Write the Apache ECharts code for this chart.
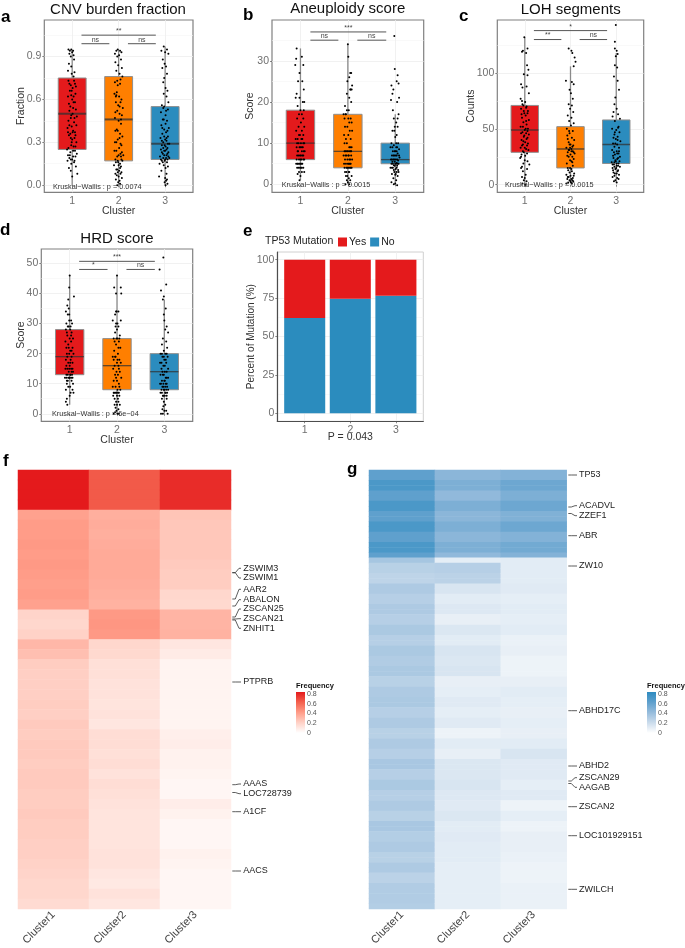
<!DOCTYPE html>
<html><head><meta charset="utf-8">
<style>html,body{margin:0;padding:0;background:#fff}#c{width:685px;height:948px}</style>
<script src="https://cdn.jsdelivr.net/npm/echarts@6/dist/echarts.min.js"></script></head>
<body><div id="c"></div>
<script>
// ---------- data ----------
const clusters=[1,2,3];
// box stats: low, q1, median, q3, high
const boxA=[[0,.25,.5,.75,.95],[0,.17,.46,.76,.95],[0,.18,.29,.55,.97]];
const boxB=[[1,6,10,18,33],[0,4,8,17,34],[0,5,6,10,17]];
const boxC=[[0,29,49,71,132],[2,15,32,52,106],[2,19,36,58,118]];
const boxD=[[3,13,19,28,46],[0,8,16,25,46],[0,8,14,20,38]];
// points: [jitter in hundredths, value]
const ptsA1=[[-8,95],[-5,94],[-2,95],[2,94],[0,93],[-6,92],[3,91],[-3,90],[4,88],[-7,85],[-2,83],[-9,80],[5,79],[-1,78],[3,76],[-6,71],[-3,70],[8,69],[1,68],[-5,66],[7,64],[-2,63],[3,62],[-9,62],[0,60],[6,58],[-4,55],[2,54],[8,53],[-6,52],[1,50],[10,48],[-3,47],[-8,45],[4,44],[9,42],[-1,41],[-10,40],[2,38],[6,37],[-4,36],[-7,35],[5,33],[0,32],[9,30],[-2,28],[3,27],[-8,26],[-11,25],[6,24],[-4,23],[10,22],[-9,21],[2,20],[-6,19],[0,18],[-10,17],[4,16],[-2,15],[8,13],[-7,12],[-3,10],[11,8],[0,6],[4,73],[-8,73],[6,71],[-1,66],[3,58],[-7,57],[-2,49],[5,47],[-6,42],[1,37],[-9,37],[7,35],[-3,33],[-1,30],[7,27],[2,24],[-5,21],[7,20],[-3,18],[5,17]];
const ptsA2=[[-5,94],[-2,95],[3,94],[6,93],[-8,92],[1,91],[-3,90],[5,88],[-7,86],[-1,84],[7,82],[-5,80],[2,78],[8,76],[-8,72],[-2,70],[4,74],[-4,65],[-9,64],[1,62],[6,60],[-6,58],[-1,56],[9,54],[-3,52],[2,50],[7,49],[-8,47],[0,45],[5,43],[-4,39],[-7,38],[3,36],[8,34],[-2,32],[-5,30],[6,28],[1,26],[-9,24],[4,22],[10,21],[-3,20],[-7,18],[8,17],[-1,16],[3,15],[-10,14],[5,13],[-5,11],[1,10],[-2,9],[4,8],[-4,7],[0,6],[7,5],[-6,4],[2,3],[-1,2],[3,1],[-3,0],[0,14],[6,18],[-3,73],[3,71],[-5,63],[-6,62],[4,58],[2,55],[-7,51],[5,46],[-2,38],[2,33],[-8,30],[4,29],[-5,24],[7,23],[0,21],[5,20],[-2,17],[-6,16],[3,12],[-3,11],[6,9],[-7,8]];
const ptsA3=[[-3,97],[4,95],[-8,94],[0,93],[7,92],[-5,88],[-1,85],[2,83],[-6,82],[4,78],[-2,75],[-4,72],[1,68],[5,66],[-3,64],[3,62],[7,58],[-7,56],[-2,55],[6,53],[-9,51],[1,49],[-5,46],[4,45],[-8,42],[8,40],[-2,39],[2,37],[-6,36],[6,34],[-10,33],[0,32],[3,31],[-4,30],[9,29],[-7,28],[1,27],[5,26],[-9,25],[-2,24],[7,23],[-5,22],[3,21],[-11,20],[9,19],[0,18],[-7,17],[4,16],[-12,15],[-3,14],[6,13],[1,12],[-8,10],[3,8],[-13,6],[0,5],[4,4],[2,3],[-1,2],[5,1],[1,0],[-4,54],[2,52],[-3,46],[1,43],[-6,40],[5,38],[-2,34],[3,33],[-7,31],[6,29],[-1,28],[-4,26],[3,25],[0,24],[-7,23],[5,22],[-2,21],[7,20],[-4,19],[2,19],[-9,18],[5,18],[-1,17],[-5,16]];
const ptsB1=[[-8,33],[3,31],[-9,30.5],[-11,29],[6,29],[-2,27],[4,25],[-5,25],[7,23],[-8,22],[-2,21],[-10,21],[5,20],[8,20],[-6,19],[0,18],[7,18],[-3,17],[3,17],[-7,16],[6,16],[1,15],[-4,14],[8,14],[-9,13],[3,13],[-1,12],[6,12],[-6,11],[-10,11],[2,11],[8,10],[-4,10],[0,9],[5,9],[-8,9],[3,8],[-5,8],[9,8],[-1,7],[6,7],[-7,7],[2,6],[-3,6],[8,6],[-9,5],[0,5],[-5,5],[4,5],[-7,4],[1,4],[6,4],[-3,3],[3,3],[-6,2.5],[0,2],[-2,1],[-3,12],[4,11],[-7,10],[1,10],[6,10],[-2,9],[3,9],[-6,8],[7,8],[1,7],[-4,7],[4,7],[-8,6],[0,6],[6,6],[-2,5],[2,5],[-6,5],[-1,4],[-4,4],[3,4],[8,3]];
const ptsB2=[[0,34],[1,31],[7,27],[5,27],[3,26],[-1,25],[9,24],[5,23],[8,23],[-2,22],[3,21],[7,20],[-6,19],[-2,18],[2,18],[-9,17],[-4,17],[6,16],[-7,16],[3,15],[8,15],[-1,14],[-6,14],[4,13],[9,13],[-8,12],[1,12],[-4,11],[6,11],[-2,10],[-7,10],[3,9],[8,9],[0,8],[-5,8],[7,8],[-9,7],[2,7],[-3,7],[5,6],[-6,6],[9,6],[0,5],[-8,5],[4,5],[-3,4],[6,4],[1,4],[-6,3],[3,3],[-1,2],[8,2],[-4,2],[2,1.5],[5,1],[-2,1],[0,.5],[3,0],[-5,0],[6,23],[-5,17],[1,16],[5,9],[-2,8],[3,8],[-7,8],[6,8],[1,7],[-5,7],[7,7],[-1,6],[3,6],[-4,5],[6,5],[2,5],[-7,4],[-1,4],[4,4],[8,4],[2,3],[-3,3]];
const ptsB3=[[-2,36],[-1,28],[5,26.5],[-8,24],[3,25],[7,24.5],[-6,22],[-4,23],[8,21],[-9,20.5],[4,20],[-5,18],[7,17],[5,16],[-3,16],[2,15],[-1,14],[5,14],[-6,13],[3,12],[0,11.5],[-8,10],[6,10],[-3,9.5],[2,9],[-10,9],[8,8.5],[-5,8],[0,8],[5,7.5],[-7,7],[-2,7],[3,7],[9,6.5],[-9,6],[-4,6],[1,6],[6,5.8],[-6,5.5],[-1,5.5],[3,5.2],[-8,5],[0,5],[7,5],[-3,4.6],[4,4.5],[-10,4],[-5,4],[1,3.7],[6,3.5],[-2,3],[3,3],[-7,2.5],[0,2.3],[5,2],[-4,1.5],[2,1],[-8,.5],[0,.2],[-3,0],[4,-.2],[-2,13],[2,10],[-6,9],[4,9],[-1,8],[3,8],[8,7],[-4,7],[1,7],[-7,6],[-2,6],[4,6],[-5,5],[2,5],[5,5],[-1,4.5],[-7,4],[3,4],[-3,3.5],[7,3],[1,2.5]];
const ptsC1=[[-1,132],[-6,119],[3,118],[6,122],[-4,120],[5,107],[8,103],[-2,99],[6,98],[-8,90],[4,88],[-5,87],[9,82],[-9,77],[-6,75],[1,74],[-3,71],[4,70],[-8,68],[7,66],[-1,64],[2,62],[-6,60],[9,58],[-3,56],[4,54],[-9,52],[7,50],[0,49],[-5,47],[3,46],[9,45],[-2,43],[6,42],[-7,40],[1,38],[-4,36],[5,35],[-9,33],[3,32],[8,31],[-2,29],[-7,27],[1,26],[-10,24],[6,21],[-3,19],[10,18],[-8,15],[5,14],[-4,12],[2,9],[-6,7],[0,6],[-2,4],[4,3],[-5,1],[1,0],[-5,72],[3,69],[-2,66],[6,64],[-7,63],[3,57],[-4,52],[2,50],[6,48],[-8,46],[-1,44],[4,41],[-3,39],[7,37],[-6,35],[0,33],[-4,30],[5,28],[-8,25],[0,22],[-6,16]];
const ptsC2=[[-4,122],[2,120],[4,118],[9,114],[7,106],[11,110],[-10,93],[3,92],[7,90],[-2,85],[1,82],[5,77],[-4,72],[3,71],[-1,68],[6,65],[-6,62],[2,60],[-3,57],[7,55],[1,53],[-8,50],[5,48],[-2,46],[-7,44],[3,42],[8,40],[-4,38],[0,36],[6,35],[-9,33],[2,32],[-3,31],[5,30],[-6,29],[9,28],[0,27],[-4,25],[7,23],[2,21],[-8,19],[5,17],[-1,15],[-5,13],[3,12],[8,10],[-9,9],[0,8],[-4,7],[5,6],[-7,5],[2,5],[-2,4],[6,3],[-5,2],[1,2],[-9,1],[3,1],[-3,48],[-6,41],[-2,36],[4,34],[-1,33],[-4,31],[2,30],[7,29],[-7,26],[4,25],[-1,22],[4,20],[-6,15],[2,14],[-2,11],[7,8],[-6,7],[4,4],[0,3]];
const ptsC3=[[-1,143],[-3,128],[-3,122],[1,120],[3,117],[-1,115],[-3,107],[2,105],[-5,97],[3,93],[6,85],[-2,78],[-4,72],[1,68],[-6,65],[4,63],[-8,61],[8,59],[-3,57],[5,52],[-9,50],[0,49],[7,47],[-4,45],[3,43],[-1,41],[9,39],[-7,37],[2,36],[-4,34],[6,33],[-9,31],[1,30],[5,28],[-3,27],[8,25],[-6,24],[2,23],[-1,21],[-10,20],[5,19],[-5,18],[1,17],[8,16],[-8,15],[-2,14],[4,13],[-6,11],[1,10],[6,9],[-4,8],[-8,7],[2,6],[5,5],[-2,4],[-5,3],[1,2],[4,51],[-3,47],[-6,42],[3,40],[-2,37],[6,30],[-5,29],[2,28],[-7,26],[4,24],[-2,22],[7,21],[-4,20],[1,19],[-8,18],[4,17],[-4,16],[0,15],[-7,13],[3,12],[-3,10]];
const ptsD1=[[0,46],[-1,42],[9,39],[-3,38],[-5,36],[-2,35],[-8,34],[-4,33],[-1,31],[3,31],[-7,30],[5,30],[-2,29],[1,28],[-8,28],[4,27],[-5,26],[7,25],[0,25],[-9,24],[3,24],[-3,23],[6,22],[-7,22],[1,21],[-1,20],[8,20],[-5,19],[4,19],[-8,18],[2,18],[-3,17],[6,17],[0,16],[-9,15],[3,15],[-5,15],[7,14],[-2,14],[1,13],[-7,13],[5,13],[-10,12],[-1,12],[3,12],[-4,11],[7,10],[-6,10],[1,9],[-3,9],[6,8],[-8,8],[2,7],[8,7],[-6,5],[-8,4],[0,6],[-5,3],[-1,33],[2,29],[-4,29],[-6,27],[3,26],[-2,22],[4,21],[-6,20],[1,17],[-7,16],[6,15],[-1,15],[4,14],[-4,13],[2,13],[-7,12],[6,12],[0,12],[-3,12],[4,11],[-6,11]];
const ptsD2=[[0,46],[-6,42],[8,42],[-2,40],[9,40],[-1,34],[3,34],[-4,33],[8,31],[-9,31],[-2,30],[3,29],[0,28],[-4,27],[6,26],[-7,25],[1,25],[4,24],[-2,23],[7,22],[-6,21],[2,20],[-9,19],[-3,19],[5,18],[0,17],[8,17],[-5,16],[3,16],[-8,15],[-1,14],[6,14],[2,13],[-4,13],[9,12],[-7,11],[0,11],[4,10],[-9,9],[-3,9],[7,8],[1,8],[-6,7],[-1,7],[5,6],[-8,6],[2,5],[-2,4],[6,3],[-5,3],[0,3],[-3,2],[3,1.5],[-1,1],[-4,.5],[1,0],[4,0],[-7,0],[-2,34],[1,30],[-3,29],[5,25],[-1,25],[-5,24],[3,22],[-4,19],[1,18],[-7,18],[4,15],[-2,12],[5,9],[-3,7],[2,7],[-7,7],[4,7],[0,6],[-5,5],[3,4]];
const ptsD3=[[-2,52],[-10,48],[4,43],[-7,41],[-1,39],[-3,38],[3,35],[-1,33],[0,31],[5,29],[2,28],[8,27],[-3,25],[4,24],[-5,23],[6,22],[-1,21],[-8,20],[2,20],[-4,19],[7,19],[0,18],[-9,17],[4,17],[-2,16],[8,15],[-6,15],[1,14],[5,14],[-3,13],[-8,13],[3,12],[8,12],[-5,11],[0,11],[-9,10],[5,10],[2,9],[-2,9],[8,8],[-6,8],[0,8],[3,7],[-8,7],[6,7],[-3,6],[1,6],[-5,5],[5,5],[-1,4],[2,3],[-2,2.5],[-4,1.5],[0,1],[4,1],[-7,0],[-3,0],[7,0],[-5,20],[5,20],[-1,19],[3,18],[-6,17],[1,16],[-4,14],[-1,13],[5,12],[1,11],[-7,10],[-2,10],[3,10],[-4,9],[6,9],[-1,8],[4,8],[-5,7],[2,7],[5,6],[-2,6]];
const brA=[[1.2,2.8,1.05,'**'],[1.2,1.8,.99,'ns'],[2.2,2.8,.99,'ns']];
const brB=[[1.21,2.81,37,'***'],[1.21,1.8,35,'ns'],[2.2,2.81,35,'ns']];
const brC=[[1.2,2.8,138,'*'],[1.2,1.8,130,'**'],[2.2,2.8,130,'ns']];
const brD=[[1.2,2.8,50.7,'***'],[1.2,1.8,48,'*'],[2.2,2.8,48,'ns']];
const mutNo=[62,74.5,76.5];
const mutYes=[38,25.5,23.5];
const hmColumns=['Cluster1','Cluster2','Cluster3'];
const fC1=[.8,.8,.8,.8,.38,.4,.4,.41,.4,.41,.4,.39,.4,.38,.19,.18,.2,.3,.27,.22,.21,.21,.21,.22,.21,.23,.22,.23,.23,.22,.23,.23,.22,.22,.23,.22,.22,.21,.21,.2,.19,.18,.18,.16];
const fC2=[.62,.62,.62,.62,.33,.34,.33,.34,.35,.35,.35,.34,.33,.32,.41,.42,.41,.18,.17,.14,.14,.13,.13,.12,.13,.11,.15,.15,.14,.15,.13,.15,.14,.13,.12,.12,.12,.12,.13,.13,.11,.1,.13,.11];
const fC3=[.75,.75,.75,.75,.25,.24,.24,.24,.24,.23,.22,.22,.18,.17,.31,.31,.32,.11,.09,.05,.05,.05,.05,.05,.05,.05,.07,.08,.06,.06,.05,.04,.04,.08,.06,.04,.04,.04,.06,.05,.04,.04,.04,.04];
const gC1=[.6,.6,.68,.68,.6,.6,.68,.68,.6,.6,.68,.68,.6,.6,.68,.68,.6,.34,.27,.27,.25,.25,.31,.31,.28,.28,.31,.31,.28,.28,.32,.32,.28,.28,.32,.32,.3,.3,.32,.32,.27,.27,.31,.31,.32,.32,.28,.28,.31,.31,.27,.27,.31,.31,.28,.28,.33,.33,.28,.28,.32,.32,.28,.28,.31,.31,.27,.27,.33,.33,.29,.29,.31,.31,.27,.27,.31,.31,.26,.26,.3,.3,.3,.3,.29];
const gC2=[.44,.44,.49,.49,.42,.42,.49,.49,.44,.44,.49,.49,.44,.44,.49,.49,.42,.1,.28,.28,.26,.26,.15,.15,.11,.11,.13,.13,.09,.09,.14,.14,.11,.11,.15,.15,.14,.14,.15,.15,.09,.09,.1,.1,.12,.12,.1,.1,.12,.12,.07,.07,.11,.11,.09,.09,.14,.14,.14,.14,.15,.15,.13,.13,.12,.12,.14,.14,.11,.11,.12,.12,.11,.11,.11,.11,.1,.1,.1,.1,.1,.1,.1,.1,.1];
const gC3=[.47,.47,.55,.55,.49,.49,.55,.55,.48,.48,.55,.55,.47,.47,.53,.53,.47,.11,.11,.11,.11,.11,.12,.12,.1,.1,.11,.11,.1,.1,.11,.11,.08,.08,.09,.09,.07,.07,.07,.07,.09,.09,.11,.11,.1,.1,.09,.09,.1,.1,.09,.09,.11,.11,.15,.15,.12,.12,.12,.12,.1,.1,.12,.12,.07,.07,.1,.1,.07,.07,.09,.09,.09,.09,.08,.08,.07,.07,.07,.07,.08,.08,.08,.08,.08];
const fGenes=['ZSWIM3','ZSWIM1','AAR2','ABALON','ZSCAN25','ZSCAN21','ZNHIT1','PTPRB','AAAS','LOC728739','A1CF','AACS'];
const gGenes=['TP53','ACADVL','ZZEF1','ABR','ZW10','ABHD17C','ABHD2','ZSCAN29','AAGAB','ZSCAN2','LOC101929151','ZWILCH'];
const legendTicks=['0.8','0.6','0.4','0.2','0'];
const yTicksA=[0,.3,.6,.9], yTicksB=[0,10,20,30], yTicksC=[0,50,100], yTicksD=[0,10,20,30,40,50], yTicksE=[0,25,50,75,100];
const yMinorA=[.15,.45,.75,1.05], yMinorB=[5,15,25,35], yMinorC=[25,75,125], yMinorD=[5,15,25,35,45], yMinorE=[12.5,37.5,62.5,87.5];

// ---------- layout ----------
const FONT='"Liberation Sans",Arial,sans-serif';
const boxColors=['#e41a1c','#ff7f00','#2b8cbe'];
const panels=[
 {rect:[44.3,20,193,192.3],min:-.05,max:1.156,ticks:yTicksA,minor:yMinorA,name:'Fraction',box:boxA,pts:[ptsA1,ptsA2,ptsA3],scale:.01,br:brA,gap:18,medW:2,title:'CNV burden fraction',tx:118,ty:10,kw:'Kruskal\u2212Wallis : p = 0.0074',kx:53,ky:186.5},
 {rect:[272,20,423.7,192.3],min:-1.94,max:39.9,ticks:yTicksB,minor:yMinorB,name:'Score',box:boxB,pts:[ptsB1,ptsB2,ptsB3],scale:1,br:brB,gap:16,medW:1.3,title:'Aneuploidy score',tx:347.7,ty:9,kw:'Kruskal\u2212Wallis : p = 0.0015',kx:281.7,ky:185},
 {rect:[497.3,20,643.7,192.3],min:-6.8,max:147.5,ticks:yTicksC,minor:yMinorC,name:'Counts',box:boxC,pts:[ptsC1,ptsC2,ptsC3],scale:1,br:brC,gap:21,medW:1.5,title:'LOH segments',tx:570.7,ty:9.5,kw:'Kruskal\u2212Wallis : p = 0.0015',kx:505,ky:185},
 {rect:[41.3,249,192.7,421.3],min:-2.5,max:54.8,ticks:yTicksD,minor:yMinorD,name:'Score',box:boxD,pts:[ptsD1,ptsD2,ptsD3],scale:1,br:brD,gap:15,medW:1.3,title:'HRD score',tx:117,ty:238.5,kw:'Kruskal\u2212Wallis : p = 6e\u221204',kx:52,ky:414}
];
const eRect=[277.3,252,423.3,421.3], eBars=[281.9,252,418.7,421.3];
const hmF=[18,470,231,910.7], hmG=[369,470,566.7,909.3];
const fLab=[[568.3,572.7],[578,572.7],[589.3,599],[599.7,606],[609,617],[618.7,619],[628.3,620],[682,682],[784,784.7],[793.7,792.5],[811.7,811.7],[871,871]];
const gLab=[[475,475],[505.7,507],[515.7,513.5],[535.7,535.7],[566,566],[710.7,710.7],[766,766],[777.7,781],[787.3,783.5],[806.7,806.7],[835.7,835.7],[889.3,889.3]];

const grid=[],xAxis=[],yAxis=[],series=[],graphic=[];
function gridOf(r,extra){return Object.assign({left:r[0],top:r[1],width:r[2]-r[0],height:r[3]-r[1],containLabel:false},extra||{});}
function txt(text,x,y,size,fill,align,weight,rot){
  graphic.push({type:'text',x:x,y:y,rotation:rot||0,z:50,silent:true,style:{text:text,fill:fill,font:(weight?weight+' ':'')+size+'px '+FONT,textAlign:align||'left',textVerticalAlign:'middle'}});
}
const GRID='#ededed', MINOR='#f5f5f5', TICK='#6f6f6f', AXN='#333';
function xAxisOf(gi){
  return {gridIndex:gi,type:'value',min:.4,max:3.6,nameMoveOverlap:false,
   axisLine:{show:false},
   axisTick:{show:true,length:2,customValues:clusters,lineStyle:{color:'#555',width:.7}},
   axisLabel:{customValues:clusters,color:TICK,fontSize:10.5,fontFamily:FONT,margin:3,formatter:v=>String(v)},
   splitLine:{show:true,lineStyle:{color:GRID,width:.8}}};
}
panels.forEach((p,i)=>{
  const gi=grid.length;
  grid.push(gridOf(p.rect,{show:true,borderColor:'#808080',borderWidth:1.2,backgroundColor:'#fff'}));
  xAxis.push(Object.assign(xAxisOf(gi),{name:'Cluster',nameLocation:'middle',nameGap:13,nameTextStyle:{color:AXN,fontSize:10.5,fontFamily:FONT}}));
  const y0=yAxis.length;
  yAxis.push({gridIndex:gi,type:'value',min:p.min,max:p.max,name:p.name,nameLocation:'middle',nameGap:p.gap,nameMoveOverlap:false,nameTextStyle:{color:AXN,fontSize:10.5,fontFamily:FONT},
    axisLine:{show:false},axisTick:{show:true,length:2,customValues:p.ticks,lineStyle:{color:'#555',width:.7}},
    axisLabel:{customValues:p.ticks,color:TICK,fontSize:10.5,fontFamily:FONT,margin:3,formatter:v=>p.scale===.01?v.toFixed(1):String(v)},
    splitLine:{show:true,lineStyle:{color:GRID,width:.8}}});
  yAxis.push({gridIndex:gi,type:'value',min:p.min,max:p.max,position:'right',axisLine:{show:false},axisTick:{show:false,customValues:p.minor},
    axisLabel:{show:false,customValues:p.minor},splitLine:{show:true,lineStyle:{color:MINOR,width:.6}}});
  const xi=xAxis.length-1;
  // boxes
  series.push({type:'custom',name:'box'+i,xAxisIndex:xi,yAxisIndex:y0,z:2,silent:true,clip:false,
    data:p.box.map((b,k)=>[clusters[k]].concat(b)),
    encode:{x:0,y:[1,2,3,4,5]},
    renderItem:(params,api)=>{
      const x=api.value(0),W=.6;
      const lo=api.coord([x,api.value(1)]),q1=api.coord([x,api.value(2)]),md=api.coord([x,api.value(3)]),q3=api.coord([x,api.value(4)]),hi=api.coord([x,api.value(5)]);
      const w=api.size([W,0])[0];
      const col=boxColors[params.dataIndex];
      return {type:'group',children:[
        {type:'line',shape:{x1:lo[0],y1:lo[1],x2:hi[0],y2:hi[1]},style:{stroke:'#8a8a8a',lineWidth:1.3}},
        {type:'rect',shape:{x:q3[0]-w/2,y:q3[1],width:w,height:q1[1]-q3[1]},style:{fill:col,stroke:'#8f8f8f',lineWidth:1}},
        {type:'line',shape:{x1:md[0]-w/2,y1:md[1],x2:md[0]+w/2,y2:md[1]},style:{stroke:'rgba(50,50,50,.75)',lineWidth:p.medW}}
      ]};
    }});
  // jitter points
  p.pts.forEach((arr,k)=>{
    series.push({type:'scatter',name:'pts'+i+k,xAxisIndex:xi,yAxisIndex:y0,z:3,silent:true,symbolSize:2,itemStyle:{color:'#000',opacity:1},
      data:arr.map(a=>[clusters[k]+a[0]/100,a[1]*p.scale])});
  });
  // significance brackets
  series.push({type:'custom',name:'sig'+i,xAxisIndex:xi,yAxisIndex:y0,z:4,silent:true,clip:false,
    data:p.br.map(b=>[b[0],b[1],b[2]]),encode:{x:[0,1],y:2},
    renderItem:(params,api)=>{
      const a=api.coord([api.value(0),api.value(2)]),b=api.coord([api.value(1),api.value(2)]);
      return {type:'group',children:[
        {type:'line',shape:{x1:a[0],y1:a[1],x2:b[0],y2:b[1]},style:{stroke:'#555',lineWidth:1}},
        {type:'text',style:{text:p.br[params.dataIndex][3],x:(a[0]+b[0])/2,y:a[1]-.5,textAlign:'center',textVerticalAlign:'bottom',fill:'#444',font:'7px '+FONT}}
      ]};
    }});
  txt(p.title,p.tx,p.ty,15,'#111','center');
  txt(p.kw,p.kx,p.ky,7.3,'#333','left');
});
// panel e: outer frame with axes, inner category grid with the stacked bars
(function(){
  const eMin=-5.2,eMax=105;
  const gi=grid.length;
  grid.push(gridOf(eRect,{show:true,borderColor:'#d0d0d0',borderWidth:1,backgroundColor:'#fff'}));
  const ax=xAxisOf(gi);
  ax.axisLine={show:true,onZero:false,lineStyle:{color:'#4d4d4d',width:1.2}};
  ax.name='P = 0.043';ax.nameLocation='middle';ax.nameGap=10;ax.nameTextStyle={color:AXN,fontSize:10.5,fontFamily:FONT};
  xAxis.push(ax);
  yAxis.push({gridIndex:gi,type:'value',min:eMin,max:eMax,name:'Percent of Mutation (%)',nameLocation:'middle',nameGap:21,nameMoveOverlap:false,nameTextStyle:{color:AXN,fontSize:10,fontFamily:FONT},
    axisLine:{show:true,onZero:false,lineStyle:{color:'#4d4d4d',width:1.2}},axisTick:{show:true,length:2,customValues:yTicksE,lineStyle:{color:'#555',width:.7}},
    axisLabel:{customValues:yTicksE,color:TICK,fontSize:10.5,fontFamily:FONT,margin:3},splitLine:{show:true,lineStyle:{color:GRID,width:.8}}});
  yAxis.push({gridIndex:gi,type:'value',min:eMin,max:eMax,position:'right',axisLine:{show:false},axisTick:{show:false,customValues:yMinorE},
    axisLabel:{show:false,customValues:yMinorE},splitLine:{show:true,lineStyle:{color:MINOR,width:.6}}});
  const gj=grid.length;
  grid.push(gridOf(eBars));
  xAxis.push({gridIndex:gj,type:'category',data:clusters,show:false});
  yAxis.push({gridIndex:gj,type:'value',min:eMin,max:eMax,show:false});
  const xi=xAxis.length-1,yi=yAxis.length-1;
  series.push({type:'bar',name:'No',stack:'m',xAxisIndex:xi,yAxisIndex:yi,barWidth:'90%',silent:true,z:2,itemStyle:{color:'#2b8cbe'},data:mutNo});
  series.push({type:'bar',name:'Yes',stack:'m',xAxisIndex:xi,yAxisIndex:yi,barWidth:'90%',silent:true,z:2,itemStyle:{color:'#e41a1c'},data:mutYes});
  txt('TP53 Mutation',265,240.7,10.5,'#222');
})();
// heatmaps
const rowsF=fC1.map((_,i)=>'r'+i), rowsG=gC1.map((_,i)=>'r'+i);
function heat(rect,rows,cols,name){
  const gi=grid.length;
  grid.push(gridOf(rect));
  xAxis.push({gridIndex:gi,type:'category',data:hmColumns,axisLine:{show:false},axisTick:{show:false},splitLine:{show:false},
    axisLabel:{rotate:45,color:'#444',fontSize:11,fontFamily:FONT,margin:4,interval:0}});
  yAxis.push({gridIndex:gi,type:'category',data:rows,inverse:true,show:false});
  const data=[];
  cols.forEach((c,x)=>c.forEach((v,y)=>data.push([x,y,v])));
  series.push({type:'heatmap',name:name,xAxisIndex:xAxis.length-1,yAxisIndex:yAxis.length-1,silent:true,progressive:0,data:data,itemStyle:{borderWidth:0}});
  return series.length-1;
}
const sF=heat(hmF,rowsF,[fC1,fC2,fC3],'f');
const sG=heat(hmG,rowsG,[gC1,gC2,gC3],'g');
const redRamp=['#ffffff','#ffd2c7','#ff9c88','#f4614e','#e41a1c'];
const blueRamp=['#ffffff','#cbdcec','#96bcdc','#5fa0cd','#2e8bc0'];
function legendBar(x,tx,ramp){
  const stops=ramp.map((c,i)=>({offset:1-i/(ramp.length-1),color:c}));
  txt('Frequency',x,686,7.5,'#111','left','bold');
  graphic.push({type:'rect',x:x,y:692,shape:{width:9,height:41},z:50,silent:true,style:{fill:{type:'linear',x:0,y:0,x2:0,y2:1,colorStops:stops}}});
  legendTicks.forEach((t,i)=>txt(t,tx,694+i*9.75,7,'#555'));
}
legendBar(296,307,redRamp);
legendBar(647,658,blueRamp);
function geneLabels(names,lab,x0,x1,tx){
  names.forEach((n,i)=>{
    const [y1,y0]=lab[i];
    graphic.push({type:'polyline',z:50,silent:true,shape:{points:[[x0,y0],[x0+3,y0],[x1-2,y1],[x1,y1]]},style:{stroke:'#333',lineWidth:.8,fill:null}});
    txt(n,tx,y1,9,'#222');
  });
}
geneLabels(fGenes,fLab,232.3,241,243.3);
geneLabels(gGenes,gLab,568.3,577,579);
[['a',1,17],['b',243,15],['c',459,16],['d',0,230],['e',243,231],['f',3,461],['g',347,469]].forEach(l=>txt(l[0],l[1],l[2],17,'#000','left','bold'));

const chart=echarts.init(document.getElementById('c'),null,{renderer:'canvas',width:685,height:948});
chart.setOption({animation:false,backgroundColor:'#fff',textStyle:{fontFamily:FONT},
  legend:{show:true,data:['Yes','No'],left:333,top:231.5,itemWidth:9,itemHeight:9,itemGap:4,icon:'rect',selectedMode:false,textStyle:{color:'#222',fontSize:10.5,fontFamily:FONT,padding:[0,0,0,-3]}},
  grid,xAxis,yAxis,series,graphic:{elements:graphic},
  visualMap:[
   {show:false,type:'continuous',seriesIndex:sF,dimension:2,min:0,max:.8,inRange:{color:redRamp}},
   {show:false,type:'continuous',seriesIndex:sG,dimension:2,min:0,max:.8,inRange:{color:blueRamp}}
  ]});
</script></body></html>
